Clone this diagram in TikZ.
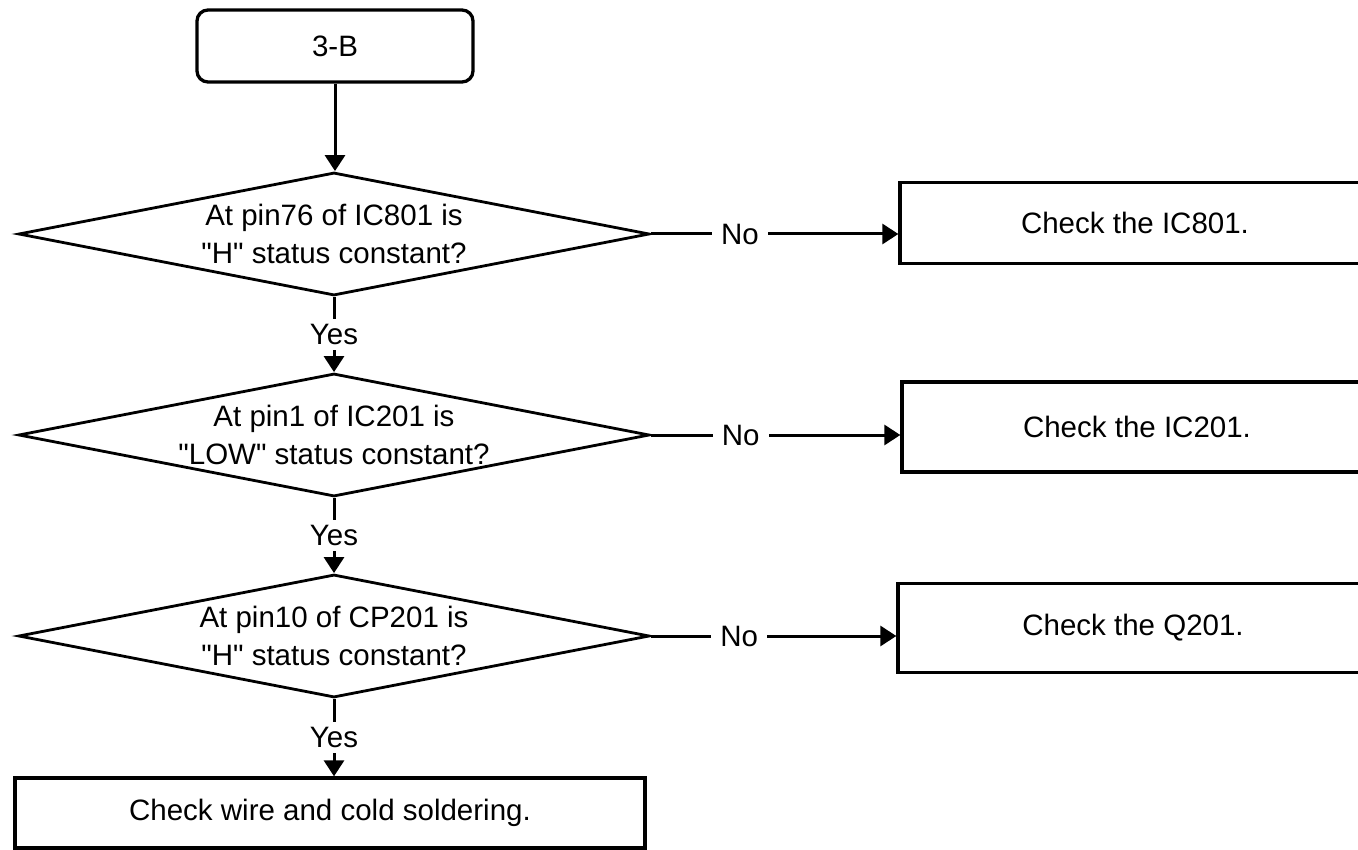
\documentclass[tikz,border=0pt]{standalone}
\usepackage{fontspec}
\setmainfont{Liberation Sans}
\usetikzlibrary{shapes.geometric,arrows.meta}
\begin{document}
\begin{tikzpicture}[x=1pt,y=-1pt,
  font=\fontsize{29.5}{38}\selectfont,
  decision/.style={draw, diamond, aspect=5.13, inner sep=0pt,
    minimum width=631pt, minimum height=123pt, line width=2.8pt, align=center},
  box/.style={draw, rectangle, line width=3.3pt, inner sep=0pt},
  conn/.style={line width=3pt, -{Triangle[length=16pt,width=20pt]}},
  lblno/.style={fill=white, inner xsep=9pt, inner ysep=2pt},
  lblyes/.style={fill=white, inner xsep=2pt, inner ysep=5pt}]
\useasboundingbox (0,0) rectangle (1358,850);

\node[box, rounded corners=11pt, minimum width=276pt, minimum height=72pt] (start) at (335,46) {3-B};

\node[decision] (d1) at (334,234) {At pin76 of IC801 is\\\textquotedbl H\textquotedbl{} status constant?};
\node[decision] (d2) at (334,435) {At pin1 of IC201 is\\\textquotedbl LOW\textquotedbl{} status constant?};
\node[decision] (d3) at (334,636) {At pin10 of CP201 is\\\textquotedbl H\textquotedbl{} status constant?};

\node[box, minimum width=630pt, minimum height=70pt] (end) at (330,813) {Check wire and cold soldering.};

\node[box, minimum width=470pt, minimum height=81pt] (b1) at (1135,223) {Check the IC801.};
\node[box, minimum width=470pt, minimum height=90pt] (b2) at (1137,427) {Check the IC201.};
\node[box, minimum width=470pt, minimum height=89pt] (b3) at (1133,628) {Check the Q201.};

\draw[conn] (start.south) -- (start.south |- d1.north);
\draw[conn] (d1.south) -- node[lblyes]{Yes} (d2.north);
\draw[conn] (d2.south) -- node[lblyes]{Yes} (d3.north);
\draw[conn] (d3.south) -- node[lblyes]{Yes} (d3.south |- end.north);

\draw[conn] (d1.east) -- node[lblno, pos=0.36]{No} (d1.east -| b1.west);
\draw[conn] (d2.east) -- node[lblno, pos=0.36]{No} (d2.east -| b2.west);
\draw[conn] (d3.east) -- node[lblno, pos=0.36]{No} (d3.east -| b3.west);
\end{tikzpicture}
\end{document}
